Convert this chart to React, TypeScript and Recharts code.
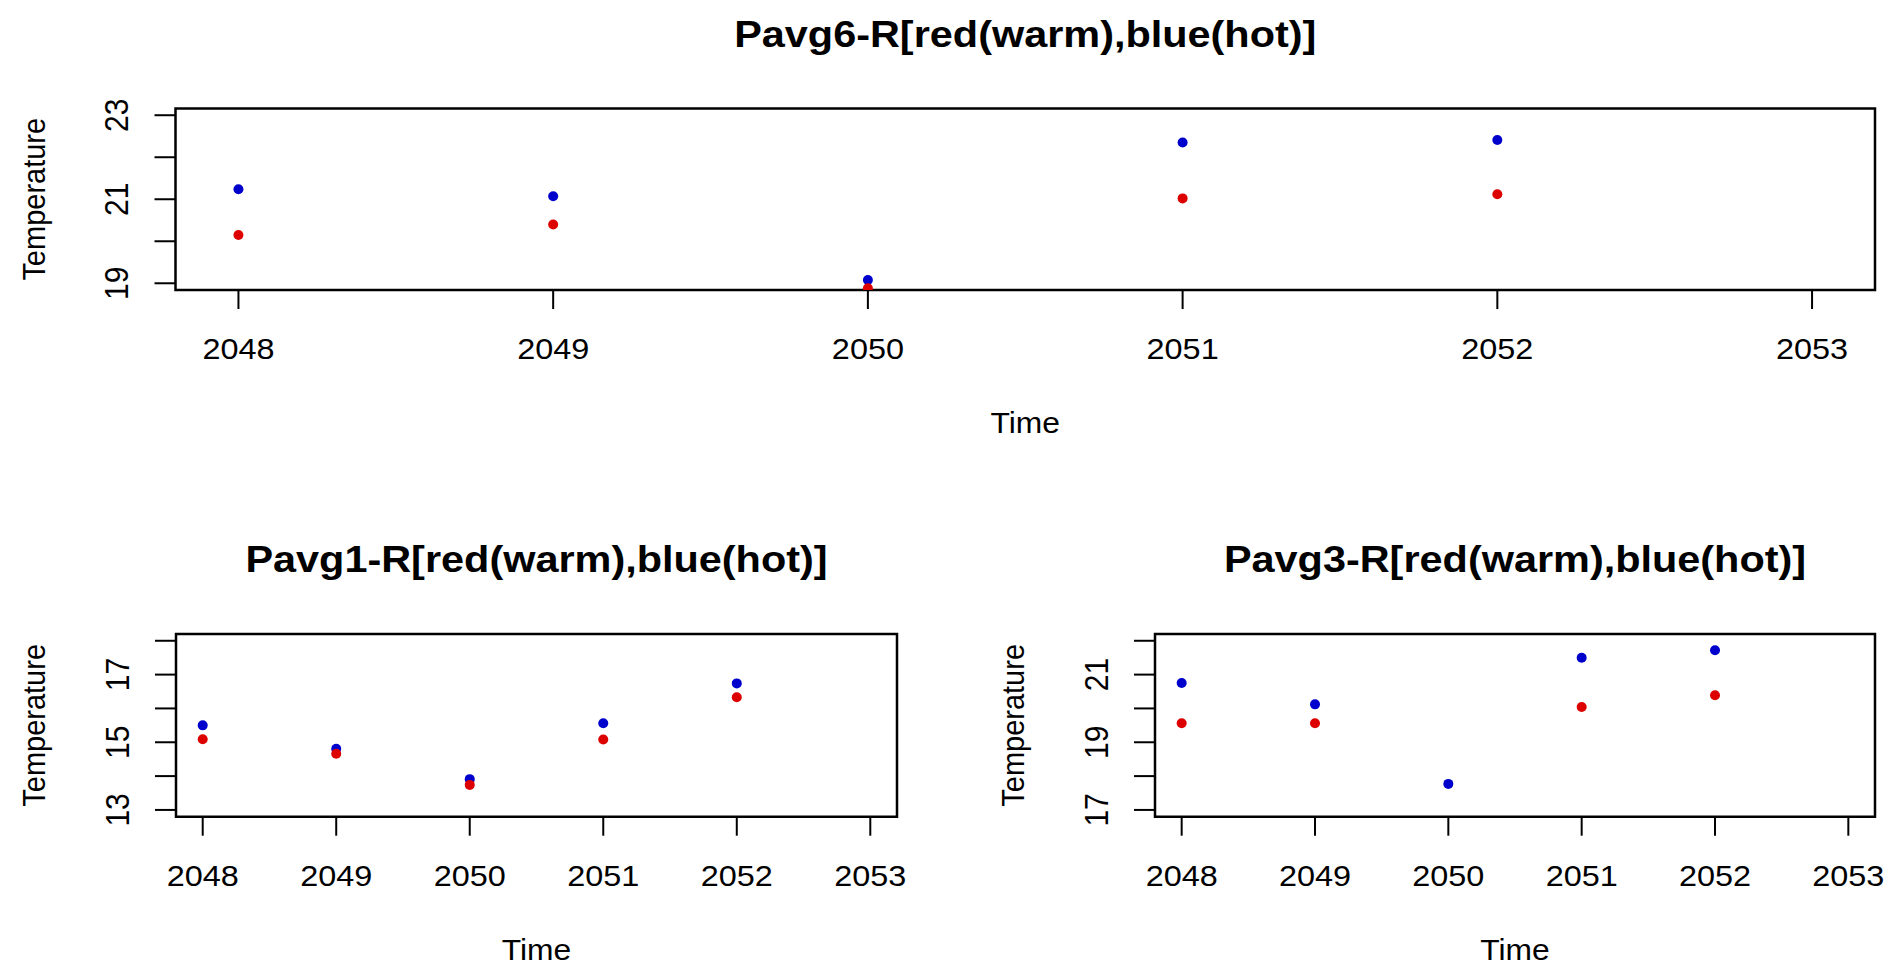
import React from 'react';
import { ScatterChart, Scatter, XAxis, YAxis, ReferenceArea, Label } from 'recharts';

const FONT = '"Liberation Sans", Arial, Helvetica, sans-serif';

// ---- data ----
const years = [2048, 2049, 2050, 2051, 2052];
const yearTicks = [2048, 2049, 2050, 2051, 2052, 2053];
const yearDomain: [number, number] = [2047.8, 2053.2];

const pavg6Warm = [20.15, 20.4, 18.88, 21.02, 21.12];
const pavg6Hot = [21.24, 21.07, 19.08, 22.35, 22.41];
const pavg6Ticks = [19, 20, 21, 22, 23];
const pavg6Labels = [19, 21, 23];
const pavg6Domain: [number, number] = [18.84, 23.16];

const pavg1Warm = [15.09, 14.66, 13.74, 15.08, 16.33];
const pavg1Hot = [15.5, 14.81, 13.91, 15.56, 16.74];
const pavg1Ticks = [13, 14, 15, 16, 17, 18];
const pavg1Labels = [13, 15, 17];
const pavg1Domain: [number, number] = [12.8, 18.2];

const pavg3Warm: (number | null)[] = [19.56, 19.56, null, 20.04, 20.39];
const pavg3Hot = [20.75, 20.12, 17.77, 21.5, 21.72];
const pavg3Ticks = [17, 18, 19, 20, 21, 22];
const pavg3Labels = [17, 19, 21];
const pavg3Domain: [number, number] = [16.8, 22.2];

const WARM = '#dd0000';
const HOT = '#0000cc';

type Rect = { x0: number; x1: number; y0: number; y1: number };

type PanelProps = {
  title: string;
  warm: (number | null)[];
  hot: (number | null)[];
  yTicks: number[];
  yLabels: number[];
  yDomain: [number, number];
  left: number;
  top: number;
  width: number;
  height: number;
  plot: Rect;
};

const textStyle = { fontFamily: FONT, fill: '#000' };

function Panel(p: PanelProps) {
  const lx0 = p.plot.x0 - p.left;
  const lx1 = p.plot.x1 - p.left;
  const ly0 = p.plot.y0 - p.top;
  const ly1 = p.plot.y1 - p.top;
  const bottomMargin = 10;
  const xAxisH = p.height - ly1 - bottomMargin;
  const margin = { top: ly0, right: p.width - lx1, left: 0, bottom: bottomMargin };
  const cx = (lx0 + lx1) / 2;
  const cy = (ly0 + ly1) / 2;

  const warmData = years
    .map((year, i) => ({ year, temp: p.warm[i] }))
    .filter((d) => d.temp !== null && d.temp !== undefined);
  const hotData = years
    .map((year, i) => ({ year, temp: p.hot[i] }))
    .filter((d) => d.temp !== null && d.temp !== undefined);

  const xTick = (props: any) => {
    const { x, y, payload } = props;
    return (
      <text
        transform={`translate(${x},${y + 50}) scale(1.08,1)`}
        textAnchor="middle"
        fontSize={30}
        style={textStyle}
      >
        {payload.value}
      </text>
    );
  };

  const yTick = (props: any) => {
    const { x, y, payload } = props;
    if (!p.yLabels.includes(payload.value)) return <g />;
    return (
      <text
        transform={`translate(${x - 26.5},${y}) scale(1.08,1) rotate(-90)`}
        textAnchor="middle"
        fontSize={30}
        style={textStyle}
      >
        {payload.value}
      </text>
    );
  };

  const dot = (color: string) => (props: any) => (
    <circle cx={props.cx} cy={props.cy} r={5} fill={color} />
  );

  return (
    <div style={{ position: 'absolute', left: p.left, top: p.top, width: p.width, height: p.height }}>
      <ScatterChart width={p.width} height={p.height} margin={margin}>
        <XAxis
          type="number"
          dataKey="year"
          domain={yearDomain}
          ticks={yearTicks}
          interval={0}
          allowDataOverflow
          axisLine={false}
          tickSize={19}
          tickMargin={0}
          tickLine={{ stroke: '#000', strokeWidth: 2 }}
          tick={xTick}
          height={xAxisH}
        >
          <Label
            content={() => (
              <text
                transform={`translate(${cx},${ly1 + 143}) scale(1.06,1)`}
                textAnchor="middle"
                fontSize={30}
                style={textStyle}
              >
                Time
              </text>
            )}
          />
        </XAxis>
        <YAxis
          type="number"
          dataKey="temp"
          domain={p.yDomain}
          ticks={p.yTicks}
          interval={0}
          allowDataOverflow
          axisLine={false}
          tickSize={21}
          tickMargin={0}
          tickLine={{ stroke: '#000', strokeWidth: 2 }}
          tick={yTick}
          width={lx0}
        >
          <Label
            content={() => (
              <text
                transform={`translate(${lx0 - 131},${cy}) scale(1.08,1) rotate(-90)`}
                textAnchor="middle"
                fontSize={29}
                style={textStyle}
              >
                Temperature
              </text>
            )}
          />
        </YAxis>
        <ReferenceArea
          x1={yearDomain[0]}
          x2={yearDomain[1]}
          y1={p.yDomain[0]}
          y2={p.yDomain[1]}
          fill="none"
          fillOpacity={0}
          stroke="#000"
          strokeWidth={2.5}
          ifOverflow="visible"
          label={() => (
            <text
              transform={`translate(${cx},${ly0 - 62}) scale(1.12,1)`}
              textAnchor="middle"
              fontSize={37}
              fontWeight="bold"
              style={textStyle}
            >
              {p.title}
            </text>
          )}
        />
        <Scatter data={hotData} dataKey="temp" shape={dot(HOT)} isAnimationActive={false} />
        <Scatter data={warmData} dataKey="temp" shape={dot(WARM)} isAnimationActive={false} />
      </ScatterChart>
    </div>
  );
}

export default function App() {
  return (
    <div
      style={{
        position: 'absolute',
        left: 0,
        top: 0,
        width: 1898,
        height: 979,
        background: '#fff',
        overflow: 'hidden',
      }}
    >
      <Panel
        title="Pavg6-R[red(warm),blue(hot)]"
        warm={pavg6Warm}
        hot={pavg6Hot}
        yTicks={pavg6Ticks}
        yLabels={pavg6Labels}
        yDomain={pavg6Domain}
        left={0}
        top={0}
        width={1898}
        height={480}
        plot={{ x0: 175.5, x1: 1875, y0: 108.5, y1: 290 }}
      />
      <Panel
        title="Pavg1-R[red(warm),blue(hot)]"
        warm={pavg1Warm}
        hot={pavg1Hot}
        yTicks={pavg1Ticks}
        yLabels={pavg1Labels}
        yDomain={pavg1Domain}
        left={0}
        top={490}
        width={949}
        height={489}
        plot={{ x0: 176, x1: 897, y0: 634, y1: 816.7 }}
      />
      <Panel
        title="Pavg3-R[red(warm),blue(hot)]"
        warm={pavg3Warm}
        hot={pavg3Hot}
        yTicks={pavg3Ticks}
        yLabels={pavg3Labels}
        yDomain={pavg3Domain}
        left={949}
        top={490}
        width={949}
        height={489}
        plot={{ x0: 1155, x1: 1875, y0: 634, y1: 816.7 }}
      />
    </div>
  );
}
